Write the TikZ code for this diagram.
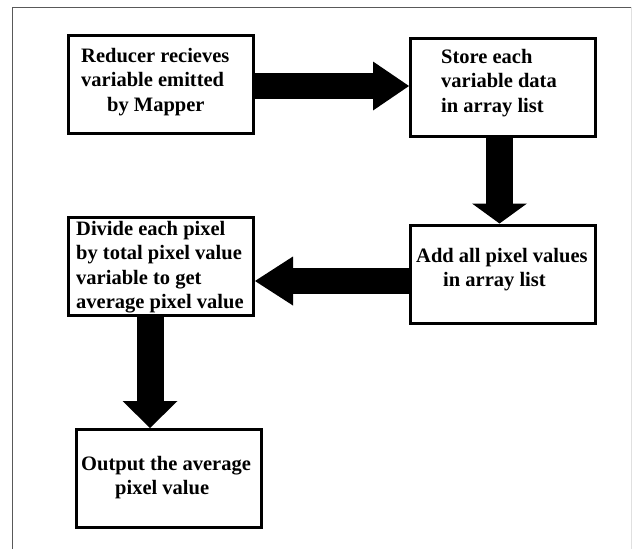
\documentclass[tikz,border=0pt]{standalone}
\usepackage{fontspec}
\setmainfont{Liberation Serif}
\usetikzlibrary{arrows.meta}
\begin{document}
\begin{tikzpicture}[x=1pt,y=-1pt,
  box/.style={draw, line width=3pt, minimum width=185pt, minimum height=98pt, inner sep=0pt},
  txt/.style={anchor=base west, inner sep=0pt, font=\fontsize{20.5}{24.6}\selectfont\bfseries},
  blkh/.style={line width=26pt, -{Triangle[length=#1, width=49pt, line width=0pt]}},
  blkv/.style={line width=27pt, -{Triangle[length=#1, width=55pt, line width=0pt]}},
  framecol/.style={draw=black!65, line width=1pt}]
\useasboundingbox (0,0) rectangle (632,549);
\fill[white] (0,0) rectangle (632,549);
% frame
\draw[framecol] (12,549) -- (12,7) -- (632,7);
\draw[draw=black!12, line width=1pt] (631,7) -- (631,549);
% boxes
\node[box] (b1) at (160.5,84) {};
\node[box] (b2) at (503,87.5) {};
\node[box] (b3) at (503,274) {};
\node[box] (b4) at (161,266.5) {};
\node[box] (b5) at (169,478.5) {};
% texts
\node[txt] (t1) at (81,62) {\begin{tabular}[t]{@{}l@{}}Reducer recieves\\variable emitted\\\hspace*{26pt}by Mapper\end{tabular}};
\node[txt] (t2) at (441,63) {\begin{tabular}[t]{@{}l@{}}Store each\\variable data\\in array list\end{tabular}};
\node[txt] (t3) at (416,262) {\begin{tabular}[t]{@{}l@{}}Add all pixel values\\\hspace*{27pt}in array list\end{tabular}};
\node[txt] (t4) at (76,235) {\begin{tabular}[t]{@{}l@{}}Divide each pixel\\by total pixel value\\variable to get\\average pixel value\end{tabular}};
\node[txt] (t5) at (81,470) {\begin{tabular}[t]{@{}l@{}}Output the average\\\hspace*{34pt}pixel value\end{tabular}};
% block arrows
\draw[blkh=36pt] ([yshift=-2pt]b1.east) -- ([yshift=-2pt]b1.east -| b2.west);
\draw[blkv=20pt] ([xshift=-3.5pt]b2.south) -- ([xshift=-3.5pt]b2.south |- b3.north);
\draw[blkh=38pt] ([yshift=-7pt]b3.west) -- ([yshift=-7pt]b3.west -| b4.east);
\draw[blkv=27pt] ([xshift=-11pt]b4.south) -- ([xshift=-11pt]b4.south |- b5.north);
\end{tikzpicture}
\end{document}
